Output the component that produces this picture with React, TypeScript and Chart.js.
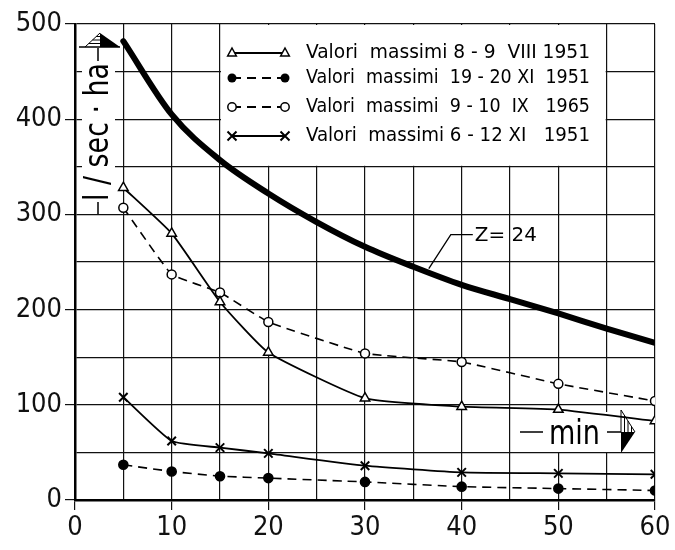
import React, { useEffect, useRef } from 'react';
import { Chart, registerables } from 'chart.js';

Chart.register(...registerables);

// ---- data ----
const minutes = [5, 10, 15, 20, 30, 40, 50, 60];
const valori_8_9_VIII_1951 = [328, 280, 208, 155, 107, 98, 95, 83];
const valori_19_20_XI_1951 = [37, 30, 25, 23, 19, 14, 12, 10];
const valori_9_10_IX_1965 = [307, 237, 218, 187, 154, 145, 122, 104];
const valori_6_12_XI_1951 = [108, 62, 55, 49, 36, 29, 28, 27];
const zMinutes = [5, 10, 15, 20, 25, 30, 35, 40, 45, 50, 55, 60];
const zCurve = [482, 405, 357, 322, 292, 266, 245, 226, 211, 196, 180, 165];
const legendLabels = [
  'Valori  massimi 8 - 9  VIII 1951',
  'Valori  massimi  19 - 20 XI  1951',
  'Valori  massimi  9 - 10  IX   1965',
  'Valori  massimi 6 - 12 XI   1951',
];
const zLabel = 'Z= 24';
const yTitle = 'l / sec · ha';
const xTitle = 'min';

const FONT = '"DejaVu Sans Condensed", "DejaVu Sans", sans-serif';

function pts(xs: number[], ys: number[]) {
  return xs.map((v, i) => ({ x: v, y: ys[i] }));
}

function drawMarker(ctx: CanvasRenderingContext2D, kind: string, x: number, y: number) {
  ctx.save();
  ctx.strokeStyle = '#000';
  ctx.lineWidth = 1.5;
  ctx.setLineDash([]);
  ctx.beginPath();
  if (kind === 'triangle') {
    const r = 5;
    ctx.moveTo(x, y - r);
    ctx.lineTo(x + r * 0.87, y + r * 0.6);
    ctx.lineTo(x - r * 0.87, y + r * 0.6);
    ctx.closePath();
    ctx.fillStyle = '#fff';
    ctx.fill();
    ctx.stroke();
  } else if (kind === 'dot') {
    ctx.arc(x, y, 4.5, 0, Math.PI * 2);
    ctx.fillStyle = '#000';
    ctx.fill();
  } else if (kind === 'circle') {
    ctx.arc(x, y, 4.2, 0, Math.PI * 2);
    ctx.fillStyle = '#fff';
    ctx.fill();
    ctx.stroke();
  } else {
    const r = 4.5;
    ctx.lineWidth = 2;
    ctx.moveTo(x - r, y - r);
    ctx.lineTo(x + r, y + r);
    ctx.moveTo(x + r, y - r);
    ctx.lineTo(x - r, y + r);
    ctx.stroke();
  }
  ctx.restore();
}

function fitText(ctx: CanvasRenderingContext2D, text: string, x: number, y: number, w: number) {
  const m = ctx.measureText(text).width;
  ctx.save();
  ctx.translate(x, y);
  ctx.scale(w / m, 1);
  ctx.fillText(text, 0, 0);
  ctx.restore();
}

const overlayPlugin = {
  id: 'overlay',
  beforeDatasetsDraw(chart: any) {
    const { ctx, chartArea: ca, scales } = chart;
    const xs = scales.x, ys = scales.y;
    ctx.save();
    ctx.fillStyle = '#fff';
    // legend box: white interior of the grid cell block [15,55]x[350,500]
    const l = xs.getPixelForValue(15), r = xs.getPixelForValue(55);
    const t = ys.getPixelForValue(500), b = ys.getPixelForValue(350);
    ctx.fillRect(l + 1, t + 1, r - l - 2, b - t - 2);
    // y title background
    ctx.fillRect(ca.left + 7, ca.top + 36, 33, 145);
    // x title background
    ctx.fillRect(ca.right - 140, ca.bottom - 88, 125, 40);
    ctx.restore();
  },
  afterDatasetsDraw(chart: any) {
    const { ctx, chartArea: ca, scales } = chart;
    const xs = scales.x, ys = scales.y;
    ctx.save();
    ctx.fillStyle = '#000';
    ctx.strokeStyle = '#000';

    // legend rows
    const l = xs.getPixelForValue(15);
    const rowY = [29, 54, 83, 112];
    const kinds = ['triangle', 'dot', 'circle', 'cross'];
    const dashed = [false, true, true, false];
    ctx.font = `20px ${FONT}`;
    ctx.textBaseline = 'middle';
    ctx.textAlign = 'left';
    rowY.forEach((dy, i) => {
      const yy = ca.top + dy;
      const x0 = l + 12, x1 = l + 65;
      ctx.save();
      ctx.lineWidth = 1.8;
      ctx.setLineDash(dashed[i] ? [9, 6] : []);
      ctx.beginPath();
      ctx.moveTo(x0, yy);
      ctx.lineTo(x1, yy);
      ctx.stroke();
      ctx.restore();
      drawMarker(ctx, kinds[i], x0, yy);
      drawMarker(ctx, kinds[i], x1, yy);
      fitText(ctx, legendLabels[i], l + 86, yy, 284);
    });

    // Z = 24 leader
    const sx = xs.getPixelForValue(36.6), sy = ys.getPixelForValue(243);
    ctx.lineWidth = 1.3;
    ctx.beginPath();
    ctx.moveTo(sx, sy);
    ctx.lineTo(sx + 22, sy - 34);
    ctx.lineTo(sx + 44, sy - 34);
    ctx.stroke();
    ctx.font = `20px ${FONT}`;
    ctx.textBaseline = 'middle';
    fitText(ctx, zLabel, sx + 46, sy - 33, 62);

    // y title
    const cx = ca.left + 23;
    ctx.lineWidth = 1.5;
    ctx.beginPath();
    ctx.moveTo(cx, ca.top + 24);
    ctx.lineTo(cx, ca.top + 37);
    ctx.moveTo(cx, ca.top + 178);
    ctx.lineTo(cx, ca.top + 190);
    ctx.stroke();
    ctx.save();
    ctx.translate(cx, ca.top + 108);
    ctx.rotate(-Math.PI / 2);
    ctx.font = `34px ${FONT}`;
    ctx.textBaseline = 'middle';
    ctx.textAlign = 'left';
    const tw = 138;
    const m = ctx.measureText(yTitle).width;
    ctx.scale(tw / m, 1);
    ctx.fillText(yTitle, -m / 2, 1);
    ctx.restore();
    // up arrow
    const ay = ca.top + 23, ax0 = ca.left + 4, ax1 = ca.left + 45, apx = ca.left + 25, apy = ca.top + 9;
    ctx.beginPath();
    ctx.moveTo(ax0, ay);
    ctx.lineTo(ax1, ay);
    ctx.stroke();
    ctx.beginPath();
    ctx.moveTo(apx, apy);
    ctx.lineTo(ax1, ay);
    ctx.lineTo(apx, ay);
    ctx.closePath();
    ctx.fill();
    ctx.lineWidth = 1;
    ctx.beginPath();
    ctx.moveTo(apx, apy);
    ctx.lineTo(ax0 + 6, ay);
    ctx.stroke();
    for (let k = 1; k < 4; k++) {
      const yy = apy + ((ay - apy) * k) / 4;
      const xl = apx - ((apx - ax0 - 6) * k) / 4;
      ctx.beginPath();
      ctx.moveTo(xl, yy);
      ctx.lineTo(apx, yy);
      ctx.stroke();
    }

    // x title
    const my = ca.bottom - 68;
    const rr = ca.right;
    ctx.lineWidth = 1.5;
    ctx.beginPath();
    ctx.moveTo(rr - 135, my);
    ctx.lineTo(rr - 112, my);
    ctx.moveTo(rr - 48, my);
    ctx.lineTo(rr - 34, my);
    ctx.stroke();
    ctx.font = `34px ${FONT}`;
    ctx.textBaseline = 'alphabetic';
    fitText(ctx, xTitle, rr - 106, ca.bottom - 56, 51);
    const bx = rr - 34, by0 = ca.bottom - 90, by1 = ca.bottom - 47, tipx = rr - 20, tipy = ca.bottom - 68;
    ctx.beginPath();
    ctx.moveTo(bx, tipy);
    ctx.lineTo(tipx, tipy);
    ctx.lineTo(bx, by1);
    ctx.closePath();
    ctx.fill();
    ctx.lineWidth = 1;
    ctx.beginPath();
    ctx.moveTo(bx, by0);
    ctx.lineTo(bx, tipy);
    ctx.moveTo(bx, by0);
    ctx.lineTo(tipx, tipy);
    ctx.stroke();
    for (let k = 1; k < 4; k++) {
      const xx = bx + ((tipx - bx) * k) / 4;
      const yt = by0 + ((tipy - by0) * k) / 4;
      ctx.beginPath();
      ctx.moveTo(xx, yt);
      ctx.lineTo(xx, tipy);
      ctx.stroke();
    }
    ctx.restore();
  },
};

export default function App() {
  const ref = useRef<HTMLCanvasElement | null>(null);
  useEffect(() => {
    document.body.style.margin = '0';
    const canvas = ref.current!;
    const black = '#000';
    const chart = new Chart(canvas, {
      type: 'line',
      data: {
        datasets: [
          {
            label: 'Z = 24',
            data: pts(zMinutes, zCurve),
            borderColor: black,
            borderWidth: 6,
            borderCapStyle: 'round',
            pointRadius: 0,
            cubicInterpolationMode: 'monotone',
          },
          {
            label: legendLabels[0],
            data: pts(minutes, valori_8_9_VIII_1951),
            borderColor: black,
            borderWidth: 1.8,
            pointStyle: 'triangle',
            pointRadius: 5.5,
            pointBackgroundColor: '#fff',
            pointBorderColor: black,
            pointBorderWidth: 1.5,
            tension: 0.15,
          },
          {
            label: legendLabels[1],
            data: pts(minutes, valori_19_20_XI_1951),
            borderColor: black,
            borderWidth: 1.6,
            borderDash: [9, 6],
            pointStyle: 'circle',
            pointRadius: 4.5,
            pointBackgroundColor: black,
            pointBorderColor: black,
            tension: 0.1,
          },
          {
            label: legendLabels[2],
            data: pts(minutes, valori_9_10_IX_1965),
            borderColor: black,
            borderWidth: 1.6,
            borderDash: [9, 6],
            pointStyle: 'circle',
            pointRadius: 4.5,
            pointBackgroundColor: '#fff',
            pointBorderColor: black,
            pointBorderWidth: 1.5,
            tension: 0.1,
          },
          {
            label: legendLabels[3],
            data: pts(minutes, valori_6_12_XI_1951),
            borderColor: black,
            borderWidth: 1.8,
            pointStyle: 'crossRot',
            pointRadius: 6,
            pointBorderColor: black,
            pointBorderWidth: 2,
            tension: 0.15,
          },
        ],
      },
      options: {
        animation: false,
        responsive: false,
        devicePixelRatio: 1,
        layout: { padding: { top: 24, right: 20, left: 0, bottom: 0 } },
        plugins: { legend: { display: false }, tooltip: { enabled: false } },
        scales: {
          x: {
            type: 'linear',
            min: 0,
            max: 60,
            afterFit: (s: any) => { s.height = 50; },
            ticks: {
              stepSize: 5,
              autoSkip: false,
              maxRotation: 0,
              padding: 2,
              color: '#111',
              font: { family: FONT, size: 27 },
              callback: (v: any) => (Number(v) % 10 === 0 ? String(v) : ''),
            },
            grid: {
              color: '#111',
              lineWidth: 1.2,
              tickLength: 10,
              tickColor: (c: any) => (c.tick && c.tick.value % 10 === 0 ? '#111' : 'rgba(0,0,0,0)'),
            },
            border: { display: true, color: '#000', width: 2.5 },
          },
          y: {
            type: 'linear',
            min: 0,
            max: 500,
            afterFit: (s: any) => { s.width = 75; },
            ticks: {
              stepSize: 50,
              autoSkip: false,
              padding: 3,
              color: '#111',
              font: { family: FONT, size: 27 },
              callback: (v: any) => (Number(v) % 100 === 0 ? String(v) : ''),
            },
            grid: {
              color: '#111',
              lineWidth: 1.2,
              tickLength: 10,
              tickColor: (c: any) => (c.tick && c.tick.value % 100 === 0 ? '#111' : 'rgba(0,0,0,0)'),
            },
            border: { display: true, color: '#000', width: 2.5 },
          },
        },
      },
      plugins: [overlayPlugin],
    } as any);
    return () => chart.destroy();
  }, []);
  return (
    <div style={{ width: 675, height: 550, background: '#fff' }}>
      <canvas ref={ref} width={675} height={550} style={{ display: 'block' }} />
    </div>
  );
}
